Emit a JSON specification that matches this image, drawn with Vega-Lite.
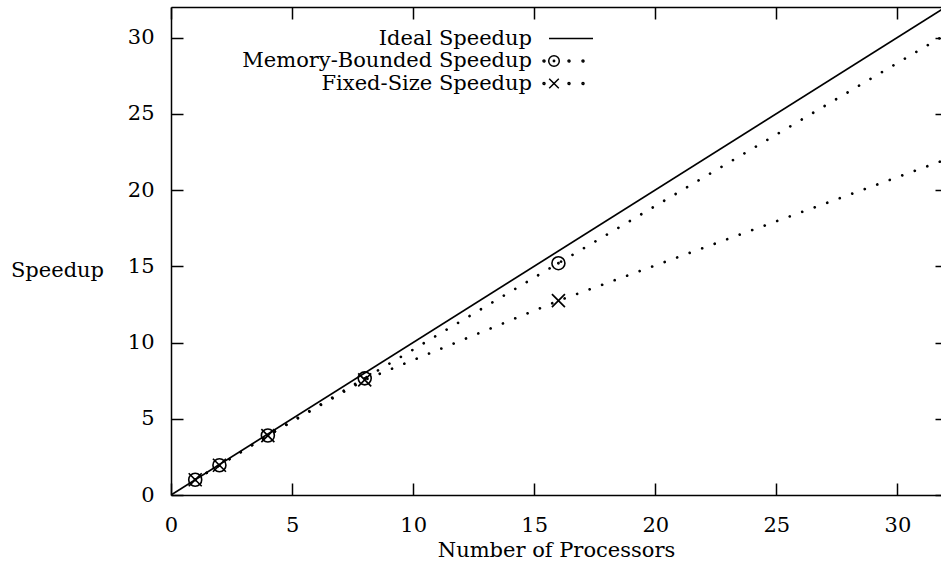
{
  "$schema": "https://vega.github.io/schema/vega-lite/v6.json",
  "width": 770,
  "height": 488,
  "autosize": {"type": "none"},
  "padding": {"left": 171, "top": 7, "right": 0, "bottom": 71},
  "background": "white",
  "config": {
    "view": {"stroke": null},
    "font": "DejaVu Serif",
    "axis": {
      "grid": false,
      "domainColor": "black",
      "domainWidth": 1.5,
      "tickColor": "black",
      "tickWidth": 1.5,
      "labelColor": "black",
      "titleColor": "black",
      "labelFont": "DejaVu Serif",
      "titleFont": "DejaVu Serif",
      "labelFontSize": 21,
      "titleFontSize": 21,
      "titleFontWeight": "normal",
      "labelFlush": false
    }
  },
  "datasets": {
    "speedup": [
      {"series": "Ideal Speedup", "processors": 0, "speedup": 0},
      {"series": "Ideal Speedup", "processors": 32, "speedup": 32},
      {"series": "Memory-Bounded Speedup", "processors": 1, "speedup": 1.0},
      {"series": "Memory-Bounded Speedup", "processors": 2, "speedup": 1.95},
      {"series": "Memory-Bounded Speedup", "processors": 4, "speedup": 3.9},
      {"series": "Memory-Bounded Speedup", "processors": 8, "speedup": 7.65},
      {"series": "Memory-Bounded Speedup", "processors": 16, "speedup": 15.2},
      {"series": "Memory-Bounded Speedup", "processors": 32, "speedup": 30.2},
      {"series": "Fixed-Size Speedup", "processors": 1, "speedup": 1.0},
      {"series": "Fixed-Size Speedup", "processors": 2, "speedup": 1.95},
      {"series": "Fixed-Size Speedup", "processors": 4, "speedup": 3.9},
      {"series": "Fixed-Size Speedup", "processors": 8, "speedup": 7.55},
      {"series": "Fixed-Size Speedup", "processors": 16, "speedup": 12.74},
      {"series": "Fixed-Size Speedup", "processors": 32, "speedup": 22.0}
    ]
  },
  "data": {"name": "speedup"},
  "resolve": {"axis": {"x": "independent", "y": "independent"}},
  "layer": [
    {
      "transform": [{"filter": "datum.series === 'Ideal Speedup'"}],
      "mark": {"type": "line", "color": "black", "strokeWidth": 1.7, "clip": true},
      "encoding": {
        "x": {
          "field": "processors", "type": "quantitative",
          "scale": {"domain": [0, 31.8], "nice": false, "zero": false},
          "axis": {
            "orient": "bottom", "values": [0, 5, 10, 15, 20, 25, 30],
            "tickSize": -12, "labelPadding": 31, "labelBaseline": "top",
            "title": "Number of Processors", "titlePadding": 4
          }
        },
        "y": {
          "field": "speedup", "type": "quantitative",
          "scale": {"domain": [0, 32], "nice": false, "zero": false},
          "axis": {
            "orient": "left", "values": [0, 5, 10, 15, 20, 25, 30],
            "tickSize": -12, "labelPadding": 29,
            "title": "Speedup", "titleAngle": 0, "titleX": -114, "titleY": 263,
            "titleAlign": "center", "titleBaseline": "middle"
          }
        }
      }
    },
    {
      "transform": [{"filter": "datum.series !== 'Ideal Speedup'"}],
      "mark": {"type": "line", "color": "black", "strokeWidth": 2.7, "strokeDash": [0.01, 13.3], "strokeCap": "round", "clip": true},
      "encoding": {
        "x": {
          "field": "processors", "type": "quantitative",
          "axis": {"orient": "top", "values": [0, 5, 10, 15, 20, 25, 30], "labels": false, "title": null, "tickSize": -12}
        },
        "y": {
          "field": "speedup", "type": "quantitative",
          "axis": {"orient": "right", "values": [0, 5, 10, 15, 20, 25, 30], "labels": false, "title": null, "tickSize": -6, "domain": false}
        },
        "detail": {"field": "series"}
      }
    },
    {
      "transform": [{"filter": "datum.series === 'Memory-Bounded Speedup' && datum.processors <= 16"}],
      "mark": {"type": "point", "shape": "M1,0A1,1 0 1,1 -1,0A1,1 0 1,1 1,0M0.1,0A0.1,0.1 0 1,1 -0.1,0A0.1,0.1 0 1,1 0.1,0", "size": 169, "filled": false, "color": "black", "strokeWidth": 1.6, "opacity": 1},
      "encoding": {
        "x": {"field": "processors", "type": "quantitative", "axis": null},
        "y": {"field": "speedup", "type": "quantitative", "axis": null}
      }
    },
    {
      "transform": [{"filter": "datum.series === 'Fixed-Size Speedup' && datum.processors <= 16"}],
      "mark": {"type": "point", "shape": "M-1,-1L1,1M-1,1L1,-1", "size": 169, "filled": false, "color": "black", "strokeWidth": 1.7, "opacity": 1},
      "encoding": {
        "x": {"field": "processors", "type": "quantitative", "axis": null},
        "y": {"field": "speedup", "type": "quantitative", "axis": null}
      }
    },
    {
      "transform": [{"filter": "datum.processors < 0"}],
      "mark": {"type": "point", "filled": false, "color": "black", "strokeWidth": 1.5, "opacity": 1},
      "encoding": {
        "x": {"field": "processors", "type": "quantitative", "axis": null},
        "y": {"field": "speedup", "type": "quantitative", "axis": null},
        "shape": {
          "field": "series", "type": "nominal",
          "scale": {
            "domain": ["Ideal Speedup", "Memory-Bounded Speedup", "Fixed-Size Speedup"],
            "range": [
              "M-1,0L3.4,0",
              "M-1.4,0A0.1,0.1 0 1,1 -1.6,0A0.1,0.1 0 1,1 -1.4,0M0.03,0A0.53,0.53 0 1,1 -1.03,0A0.53,0.53 0 1,1 0.03,0M-0.43,0A0.07,0.07 0 1,1 -0.57,0A0.07,0.07 0 1,1 -0.43,0M1.1,0A0.1,0.1 0 1,1 0.9,0A0.1,0.1 0 1,1 1.1,0M2.5,0A0.1,0.1 0 1,1 2.3,0A0.1,0.1 0 1,1 2.5,0",
              "M-1.4,0A0.1,0.1 0 1,1 -1.6,0A0.1,0.1 0 1,1 -1.4,0M-0.98,-0.48L-0.02,0.48M-0.98,0.48L-0.02,-0.48M1.1,0A0.1,0.1 0 1,1 0.9,0A0.1,0.1 0 1,1 1.1,0M2.5,0A0.1,0.1 0 1,1 2.3,0A0.1,0.1 0 1,1 2.5,0"
            ]
          },
          "legend": {
            "orient": "none", "legendX": 377, "legendY": 20.5, "title": null,
            "labelAlign": "right", "labelOffset": -38, "labelFont": "DejaVu Serif",
            "labelFontSize": 21, "labelColor": "black", "labelLimit": 0,
            "symbolSize": 400, "symbolStrokeColor": "black", "symbolFillColor": "transparent",
            "symbolStrokeWidth": 1.5, "symbolOpacity": 1, "rowPadding": 1.5, "padding": 0
          }
        }
      }
    }
  ]
}
